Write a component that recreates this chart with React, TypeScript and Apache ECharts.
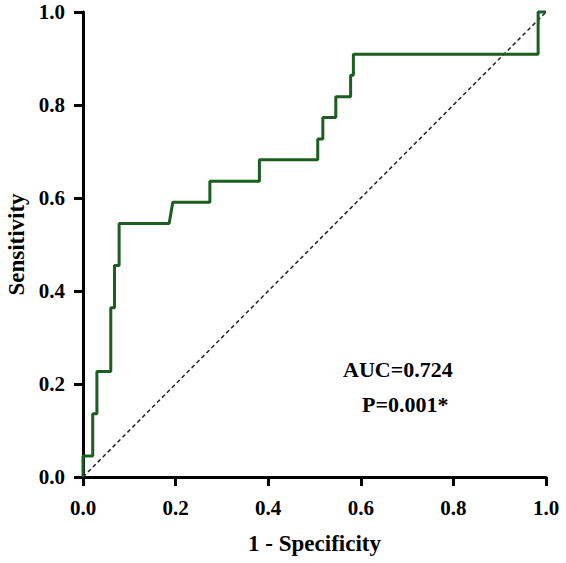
import React, { useEffect, useRef } from "react";
import * as echarts from "echarts";

// ROC curve points: false positive rate (1 - specificity) and true positive rate (sensitivity)
const fpr = [
  0, 0, 0.021, 0.021, 0.03, 0.03, 0.06, 0.06, 0.068, 0.068, 0.078, 0.078,
  0.186, 0.194, 0.274, 0.274, 0.381, 0.381, 0.507, 0.507, 0.518, 0.518,
  0.546, 0.546, 0.578, 0.578, 0.584, 0.584, 0.983, 0.983, 1,
];
const tpr = [
  0, 0.045, 0.045, 0.136, 0.136, 0.227, 0.227, 0.364, 0.364, 0.455, 0.455,
  0.545, 0.545, 0.591, 0.591, 0.636, 0.636, 0.682, 0.682, 0.727, 0.727,
  0.773, 0.773, 0.818, 0.818, 0.864, 0.864, 0.909, 0.909, 1, 1,
];

// chance line
const refX = [0, 1];
const refY = [0, 1];

const axisTicks = [0, 0.2, 0.4, 0.6, 0.8, 1.0];

const aucText = "AUC=0.724";
const pText = "P=0.001*";

const FONT = "'Liberation Serif', 'Times New Roman', serif";

export default function App() {
  const ref = useRef<HTMLDivElement>(null);

  useEffect(() => {
    if (!ref.current) return;
    const chart = echarts.init(ref.current, undefined, { renderer: "svg" });

    const rocData = fpr.map((x, i) => [x, tpr[i]]);
    const refData = refX.map((x, i) => [x, refY[i]]);

    const axisCommon = {
      type: "value" as const,
      min: axisTicks[0],
      max: axisTicks[axisTicks.length - 1],
      interval: 0.2,
      splitLine: { show: false },
      axisLine: { show: true, lineStyle: { color: "#000", width: 3 } },
      axisTick: { show: true, length: 9, lineStyle: { color: "#000", width: 3 } },
      axisLabel: {
        color: "#000",
        fontFamily: FONT,
        fontWeight: "bold" as const,
        fontSize: 21,
        formatter: (v: number) => v.toFixed(1),
      },
      nameLocation: "middle" as const,
      nameTextStyle: {
        color: "#000",
        fontFamily: FONT,
        fontWeight: "bold" as const,
        fontSize: 23,
      },
    };

    chart.setOption({
      animation: false,
      backgroundColor: "#fff",
      grid: {
        left: 83,
        right: 20,
        top: 12,
        bottom: 86,
        containLabel: false,
        outerBoundsMode: "none",
      },
      xAxis: {
        ...axisCommon,
        name: "1 - Specificity",
        nameGap: 55,
        axisLabel: { ...axisCommon.axisLabel, margin: 20 },
      },
      yAxis: {
        ...axisCommon,
        name: "Sensitivity",
        nameGap: 54,
        axisLabel: { ...axisCommon.axisLabel, margin: 18 },
      },
      series: [
        {
          type: "line",
          data: refData,
          symbol: "none",
          clip: false,
          lineStyle: { color: "#222", width: 1.5, type: [4, 3] },
          z: 2,
        },
        {
          type: "line",
          data: rocData,
          symbol: "none",
          clip: false,
          lineStyle: { color: "#1b5e20", width: 3 },
          z: 3,
        },
      ],
      graphic: [
        {
          type: "text",
          left: 343,
          top: 358,
          style: {
            text: aucText,
            fill: "#000",
            font: `bold 22px ${FONT}`,
          },
        },
        {
          type: "text",
          left: 362,
          top: 393,
          style: {
            text: pText,
            fill: "#000",
            font: `bold 22px ${FONT}`,
          },
        },
      ],
    });

    return () => chart.dispose();
  }, []);

  return (
    <div
      ref={ref}
      style={{ position: "fixed", left: 0, top: 0, width: 566, height: 563 }}
    />
  );
}
